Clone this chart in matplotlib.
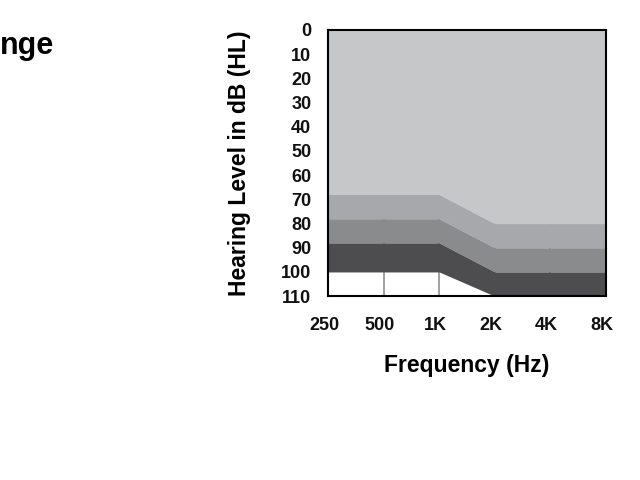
import matplotlib.pyplot as plt
from matplotlib.transforms import ScaledTranslation

# hearing range bands (dB HL) at each frequency
freqs = [250, 500, 1000, 2000, 4000, 8000]
freq_labels = ["250", "500", "1K", "2K", "4K", "8K"]
edge_a = [68, 68, 68, 80, 80, 80]
edge_b = [78, 78, 78, 90, 90, 90]
edge_c = [88, 88, 88, 100, 100, 100]
edge_d = [100, 100, 100, 110, 110, 110]
levels = list(range(0, 111, 10))

fig = plt.figure(figsize=(6.4, 4.8), dpi=100)
ax = fig.add_axes([0.5125, 0.383, 0.4345, 0.5545])

ax.set_xscale("log", base=2)
ax.set_xlim(250, 8000)
ax.set_ylim(110, 0)

# gridlines behind the bands
for f in freqs[1:-1]:
    ax.axvline(f, color="#9a9a9a", lw=1.3, zorder=0.5)

ax.fill_between(freqs, 0, edge_a, color="#c6c7c9", lw=0, zorder=1)
ax.fill_between(freqs, edge_a, edge_b, color="#a7a8ab", lw=0, zorder=1)
ax.fill_between(freqs, edge_b, edge_c, color="#8a8b8d", lw=0, zorder=1)
ax.fill_between(freqs, edge_c, edge_d, color="#4d4d4f", lw=0, zorder=1)

ax.set_xticks(freqs)
ax.set_xticklabels(freq_labels)
ax.minorticks_off()
ax.set_yticks(levels)
ax.tick_params(axis="both", length=0, labelsize=13, labelcolor="#111111")
ax.tick_params(axis="x", pad=15)
ax.tick_params(axis="y", pad=12)
shift = ScaledTranslation(-4 / 100, 0, fig.dpi_scale_trans)
for lab in ax.get_xticklabels():
    lab.set_transform(lab.get_transform() + shift)
for lab in ax.get_xticklabels() + ax.get_yticklabels():
    lab.set_family("Liberation Sans")
    lab.set_fontweight("bold")

for s in ax.spines.values():
    s.set_linewidth(1.5)
    s.set_zorder(3)

ax.set_ylabel("Hearing Level in dB (HL)", fontsize=16.5, fontweight="bold",
              family="Liberation Sans", va="center")
ax.yaxis.set_label_coords(-0.3165, 0.5)
ax.set_xlabel("Frequency (Hz)", fontsize=16.5, fontweight="bold",
              family="Liberation Sans", va="center")
ax.xaxis.set_label_coords(0.5, -0.259)

fig.text(0, 1 - 46 / 480, "nge", ha="left", va="center",
         fontsize=22, fontweight="bold", family="Liberation Sans")

plt.savefig("out.png", dpi=100)
